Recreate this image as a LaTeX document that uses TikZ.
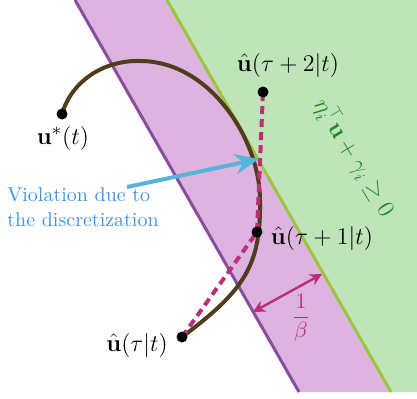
\documentclass[tikz,border=0pt]{standalone}
\usepackage{amsmath,amssymb}
\usetikzlibrary{arrows.meta}
\definecolor{purfill}{HTML}{DDB3E0}
\definecolor{purline}{HTML}{8A4C9E}
\definecolor{grnfill}{HTML}{C0E4B9}
\definecolor{grnline}{HTML}{9BC53D}
\definecolor{curvebrown}{HTML}{4F3D1C}
\definecolor{dashpink}{HTML}{BE2D78}
\definecolor{arrowblue}{HTML}{55B4D8}
\definecolor{textblue}{HTML}{3D94DB}
\definecolor{textgreen}{HTML}{1E8C1E}
\begin{document}
\begin{tikzpicture}[x=0.5pt,y=-0.5pt,
  dot/.style={circle,fill=black,inner sep=0pt,minimum size=5.5pt},
  lbl/.style={font=\fontsize{12.5}{15}\selectfont,inner sep=0pt},
  bound/.style={line width=1.5pt},
  traj/.style={draw=curvebrown,line width=2pt,line cap=round},
  disc/.style={draw=dashpink,line width=2pt,dash pattern=on 4pt off 2.5pt},
  blue arrow/.style={draw=arrowblue,line width=2pt,-{Stealth[length=12pt,width=10pt]}},
  width arrow/.style={draw=dashpink,line width=1.2pt,{Stealth[length=6pt,width=6pt]}-{Stealth[length=6pt,width=6pt]}}]
\useasboundingbox (0,0) rectangle (417,398);
% regions
\fill[purfill] (75,0) -- (167,0) -- (391,392) -- (299,392) -- cycle;
\fill[grnfill] (167,0) -- (417,0) -- (417,392) -- (391,392) -- cycle;
\coordinate (pt) at (75,0);
\coordinate (pb) at (299,392);
\coordinate (gt) at (167,0);
\coordinate (gb) at (391,392);
\draw[bound,purline] (pt) -- (pb);
\draw[bound,grnline] (gt) -- (gb);
% point positions
\coordinate (pstar) at (62,114);
\coordinate (p2) at (263,92);
\coordinate (p1) at (257,232);
\coordinate (p0) at (182,337);
% trajectory
\coordinate (ctop) at (140,61);
\coordinate (cmid) at (260,200);
\draw[traj] (pstar) .. controls (72,80) and (105,60) .. (ctop)
  .. controls (210,61) and (260,140) .. (cmid)
  .. controls (261,265) and (245,290) .. (p0);
% discretization
\draw[disc] (p0) -- (p1) -- (p2);
% points
\node[dot] (ustar) at (pstar) {};
\node[dot] (u2) at (p2) {};
\node[dot] (u1) at (p1) {};
\node[dot] (u0) at (p0) {};
% blue arrow
\coordinate (vtail) at (127,187);
\coordinate (vtip) at (259,159);
\draw[blue arrow] (vtail) -- (vtip);
\node[anchor=north west,align=left,text=textblue,inner sep=0pt,font=\fontsize{10}{12.5}\selectfont] (viol) at (7,187) {Violation due to\\the discretization};
% width arrow
\coordinate (wa) at (253,312);
\coordinate (wb) at (322,274);
\draw[width arrow] (wa) -- (wb);
\node[text=dashpink,inner sep=0pt,font=\fontsize{10.5}{12}\selectfont] (beta) at (301,318) {$\dfrac{1}{\beta}$};
% labels
\node[lbl] (lstar) at (63,138) {$\mathbf{u}^*(t)$};
\node[lbl] (l2) at (288,65) {$\hat{\mathbf{u}}(\tau+2|t)$};
\node[lbl] (l1) at (322,238) {$\hat{\mathbf{u}}(\tau+1|t)$};
\node[lbl] (l0) at (137,345) {$\hat{\mathbf{u}}(\tau|t)$};
\node[text=textgreen,inner sep=0pt,rotate=-59,font=\fontsize{12}{14}\selectfont] (cons) at (354,158) {$\eta_i^\top\mathbf{u}+\gamma_i\geq 0$};
\end{tikzpicture}
\end{document}
